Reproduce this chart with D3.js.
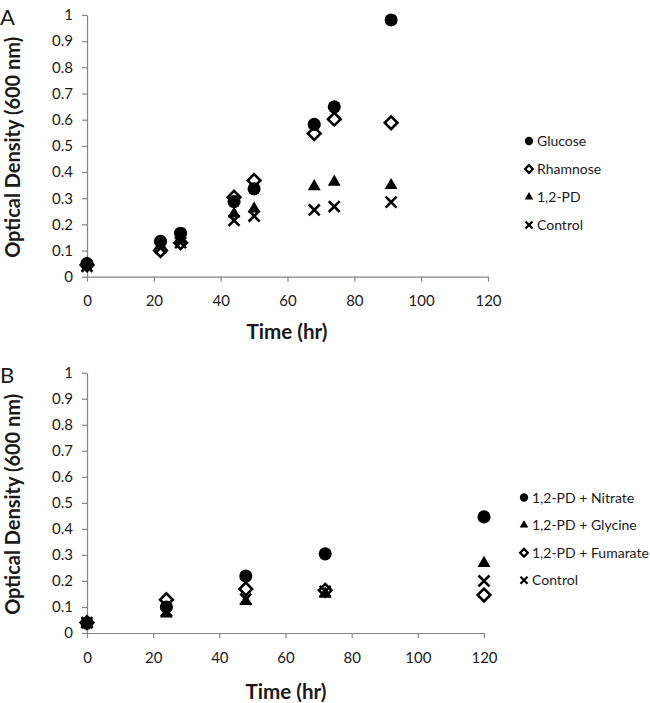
<!DOCTYPE html>
<html>
<head>
<meta charset="utf-8">
<script src="https://cdn.jsdelivr.net/npm/d3@7"></script>
<style>
  body { margin: 0; background: #fff; }
  svg { display: block; font-family: Lato, "Open Sans", sans-serif; }
</style>
</head>
<body>
<svg id="chart" width="650" height="703"></svg>
<script>
// ---------- DATA ----------
const xTicks = [0, 20, 40, 60, 80, 100, 120];
const yTicks = [0, 0.1, 0.2, 0.3, 0.4, 0.5, 0.6, 0.7, 0.8, 0.9, 1];

// Panel A
const timeA = [0, 22, 28, 44, 50, 68, 74, 91];
const glucoseA  = [0.05, 0.135, 0.166, 0.287, 0.336, 0.582, 0.649, 0.981];
const rhamnoseA = [0.045, 0.10, 0.13, 0.304, 0.368, 0.547, 0.602, 0.588];
const pdA       = [0.05, 0.12, 0.14, 0.24, 0.26, 0.345, 0.362, 0.349];
const controlA  = [0.04, 0.11, 0.13, 0.215, 0.232, 0.255, 0.268, 0.285];

// Panel B
const timeB = [0, 24, 48, 72, 120];
const nitrateB  = [0.038, 0.10, 0.219, 0.304, 0.446];
const glycineB  = [0.035, 0.074, 0.122, 0.15, 0.268];
const fumarateB = [0.04, 0.128, 0.169, 0.164, 0.146];
const controlB  = [0.04, 0.085, 0.13, 0.16, 0.20];

const labelsA = ["Glucose", "Rhamnose", "1,2-PD", "Control"];
const labelsB = ["1,2-PD + Nitrate", "1,2-PD + Glycine", "1,2-PD + Fumarate", "Control"];

// ---------- DRAWING ----------
const svg = d3.select("#chart");
const AXIS = "#868686";
const TXT = "#1a1a1a";

const shapes = {
  circle:   { type: d3.symbolCircle,   size: 135, fill: "#000", stroke: "none", sw: 0, rot: 0 },
  diamond:  { type: d3.symbolSquare,   size: 80,  fill: "#fff", stroke: "#000", sw: 2.6, rot: 45 },
  triangle: { type: d3.symbolTriangle, size: 72,  fill: "#000", stroke: "none", sw: 0, rot: 0 },
  cross:    { type: d3.symbolTimes || d3.symbolX, size: 80, fill: "none", stroke: "#000", sw: 2.6, rot: 0 }
};
const legendShapes = {
  circle:   { size: 54 },
  diamond:  { size: 30 },
  triangle: { size: 32 },
  cross:    { size: 34 }
};

function drawPanel(cfg) {
  const g = svg.append("g");
  const x = d3.scaleLinear().domain([0, 120]).range([cfg.x0, cfg.x1]);
  const y = d3.scaleLinear().domain([0, 1]).range([cfg.y0, cfg.y1]);

  // axes
  const xa = g.append("g").attr("transform", `translate(0,${cfg.y0})`)
    .call(d3.axisBottom(x).tickValues(xTicks).tickSize(5).tickSizeOuter(0).tickPadding(14));
  const ya = g.append("g").attr("transform", `translate(${cfg.x0},0)`)
    .call(d3.axisLeft(y).tickValues(yTicks).tickSize(5).tickSizeOuter(0).tickPadding(9)
      .tickFormat(d => d === 0 ? "0" : d === 1 ? "1" : d.toFixed(1)));
  [xa, ya].forEach(a => {
    a.select(".domain").attr("stroke", AXIS).attr("stroke-width", 1.2);
    a.selectAll(".tick line").attr("stroke", AXIS).attr("stroke-width", 1.2);
    a.selectAll(".tick text").attr("fill", TXT).style("font-size", "15px")
      .style("font-family", "Lato, sans-serif");
  });

  // axis titles
  g.append("text").attr("x", cfg.titleX).attr("y", cfg.titleY)
    .attr("text-anchor", "middle").attr("fill", TXT)
    .attr("textLength", 81).attr("lengthAdjust", "spacingAndGlyphs")
    .style("font-weight", "bold").style("font-size", "20px").text("Time (hr)");
  g.append("text")
    .attr("transform", `translate(20,${(cfg.y0 + cfg.y1) / 2 + 1.5}) rotate(-90)`)
    .attr("text-anchor", "middle").attr("fill", TXT)
    .attr("textLength", 221).attr("lengthAdjust", "spacingAndGlyphs")
    .style("font-weight", "bold").style("font-size", "20px").text("Optical Density (600 nm)");

  // panel letter
  g.append("text").attr("x", 0).attr("y", cfg.y1 + 10).attr("fill", TXT)
    .style("font-size", "22px").text(cfg.letter);

  // series
  cfg.drawOrder.forEach(i => {
    const s = cfg.series[i];
    const sh = shapes[s.shape];
    const pts = cfg.time.map((t, j) => ({ t, v: s.values[j] }));
    g.append("g").selectAll("path").data(pts).join("path")
      .attr("d", d3.symbol().type(sh.type).size(sh.size))
      .attr("transform", d => `translate(${x(d.t)},${y(d.v)}) rotate(${sh.rot})`)
      .attr("fill", sh.fill).attr("stroke", sh.stroke).attr("stroke-width", sh.sw);
  });

  // legend
  const lg = g.append("g");
  cfg.series.forEach((s, i) => {
    const sh = shapes[s.shape];
    const ly = cfg.legY + i * cfg.legStep;
    lg.append("path")
      .attr("d", d3.symbol().type(sh.type).size(legendShapes[s.shape].size))
      .attr("transform", `translate(${cfg.legX},${ly}) rotate(${sh.rot})`)
      .attr("fill", sh.fill).attr("stroke", sh.stroke)
      .attr("stroke-width", sh.sw ? 2.2 : 0);
    lg.append("text").attr("x", cfg.legX + 8).attr("y", ly + 5).attr("fill", TXT)
      .style("font-size", "14px").text(cfg.labels[i]);
  });
}

drawPanel({
  letter: "A", x0: 87, x1: 488, y0: 276.7, y1: 15, titleX: 287, titleY: 339,
  time: timeA, labels: labelsA,
  series: [
    { values: glucoseA, shape: "circle" },
    { values: rhamnoseA, shape: "diamond" },
    { values: pdA, shape: "triangle" },
    { values: controlA, shape: "cross" }
  ],
  drawOrder: [1, 3, 2, 0],
  legX: 529, legY: 141, legStep: 28
});

drawPanel({
  letter: "B", x0: 87, x1: 484, y0: 633, y1: 372.7, titleX: 286, titleY: 699,
  time: timeB, labels: labelsB,
  series: [
    { values: nitrateB, shape: "circle" },
    { values: glycineB, shape: "triangle" },
    { values: fumarateB, shape: "diamond" },
    { values: controlB, shape: "cross" }
  ],
  drawOrder: [2, 3, 1, 0],
  legX: 524, legY: 497.5, legStep: 27.6
});
</script>
</body>
</html>
